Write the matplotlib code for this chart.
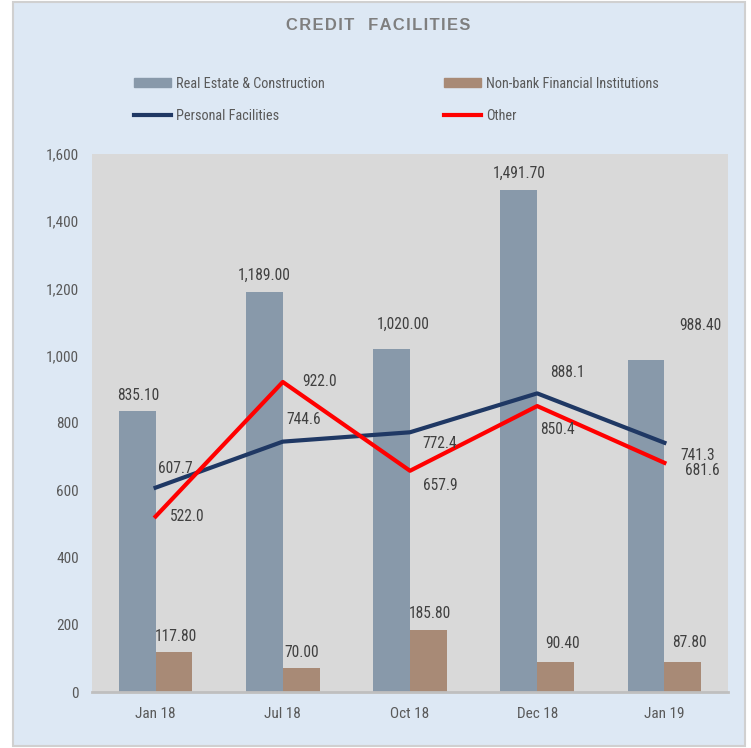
import matplotlib
matplotlib.use("Agg")
import matplotlib.pyplot as plt
from matplotlib.patches import Rectangle, Patch
from matplotlib.lines import Line2D
import numpy as np

plt.rcParams['font.family'] = ['Roboto Condensed', 'Liberation Sans', 'DejaVu Sans']

months = ["Jan 18", "Jul 18", "Oct 18", "Dec 18", "Jan 19"]
real_estate = [835.10, 1189.00, 1020.00, 1491.70, 988.40]
non_bank = [117.80, 70.00, 185.80, 90.40, 87.80]
personal = [607.7, 744.6, 772.4, 888.1, 741.3]
other = [522.0, 922.0, 657.9, 850.4, 681.6]

# label offsets in screen pixels (dx right, dy down) from the mark they belong to
re_off = [(1, -16), (0, -17), (12, -25), (0, -17), (54, -34)]
nb_off = [(2, -16), (0, -16), (1, -16), (7, -18), (7, -20)]
pf_off = [(20, -19), (21, -22), (30, 11), (30, -21), (33, 13)]
ot_off = [(32, 0), (37, 0), (30, 15), (20, 23), (38, 8)]

BG = "#dde8f4"
BLUE_BAR = "#8899aa"
BROWN_BAR = "#a88a76"
NAVY = "#1f3864"
RED = "#ff0000"
TXT = "#404040"
GREY_TXT = "#595959"

fig = plt.figure(figsize=(7.51, 7.48), dpi=100)
fig.patch.set_facecolor("white")
fig.patches.append(Rectangle((13 / 751, 2 / 748), 732 / 751, 744 / 748,
                             transform=fig.transFigure, facecolor=BG,
                             edgecolor="#d0d0d0", linewidth=1.5, zorder=-1))

ax = fig.add_axes([92 / 751, 1 - 692 / 748, 636 / 751, 538 / 748])
ax.set_facecolor("#d9d9d9")

x = np.arange(len(months))
w = 0.29
ax.bar(x - w / 2, real_estate, width=w, color=BLUE_BAR, zorder=2)
ax.bar(x + w / 2, non_bank, width=w, color=BROWN_BAR, zorder=2)
ax.plot(x, personal, color=NAVY, linewidth=3, zorder=3)
ax.plot(x, other, color=RED, linewidth=3, zorder=3)

ax.set_xlim(-0.5, 4.5)
ax.set_ylim(0, 1600)
ax.set_yticks(range(0, 1601, 200))
ax.set_yticklabels([f"{v:,}" for v in range(0, 1601, 200)])
ax.set_xticks(x)
ax.set_xticklabels(months)
ax.tick_params(length=0, labelsize=11, colors=GREY_TXT, pad=11)
ax.tick_params(axis="y", pad=9.5)
for s in ["top", "right", "left"]:
    ax.spines[s].set_visible(False)
ax.spines["bottom"].set_color("#bfbfbf")
ax.spines["bottom"].set_linewidth(2)


def lab(xv, yv, txt, off):
    ax.annotate(txt, (xv, yv), xytext=(off[0] * 0.72, -off[1] * 0.72),
                textcoords="offset points", ha="center", va="center",
                fontsize=11.2, color=TXT, zorder=4)


for i in range(len(months)):
    lab(x[i] - w / 2, real_estate[i], f"{real_estate[i]:,.2f}", re_off[i])
    lab(x[i] + w / 2, non_bank[i], f"{non_bank[i]:,.2f}", nb_off[i])
    lab(x[i], personal[i], f"{personal[i]:.1f}", pf_off[i])
    lab(x[i], other[i], f"{other[i]:.1f}", ot_off[i])

title = "   ".join("\u200a".join(word) for word in "CREDIT FACILITIES".split())
fig.text(378 / 751, 1 - 26 / 748, title, ha="center", va="center",
         fontsize=11.9, fontweight="bold", color="#7f7f7f",
         family=["Liberation Sans", "DejaVu Sans"])

leg_kw = dict(loc="upper left", frameon=False, fontsize=10.3, labelcolor=GREY_TXT,
              handlelength=2.6, handleheight=0.6, handletextpad=0.35,
              labelspacing=1.25, borderpad=0, borderaxespad=0)
fig.legend([Patch(color=BLUE_BAR), Line2D([], [], color=NAVY, lw=3)],
           ["Real Estate & Construction", "Personal Facilities"],
           bbox_to_anchor=(134 / 751, 1 - 77 / 748), **leg_kw)
fig.legend([Patch(color=BROWN_BAR), Line2D([], [], color=RED, lw=3)],
           ["Non-bank Financial Institutions", "Other"],
           bbox_to_anchor=(444 / 751, 1 - 77 / 748), **leg_kw)

fig.savefig("out.png", dpi=100, facecolor=fig.get_facecolor())
